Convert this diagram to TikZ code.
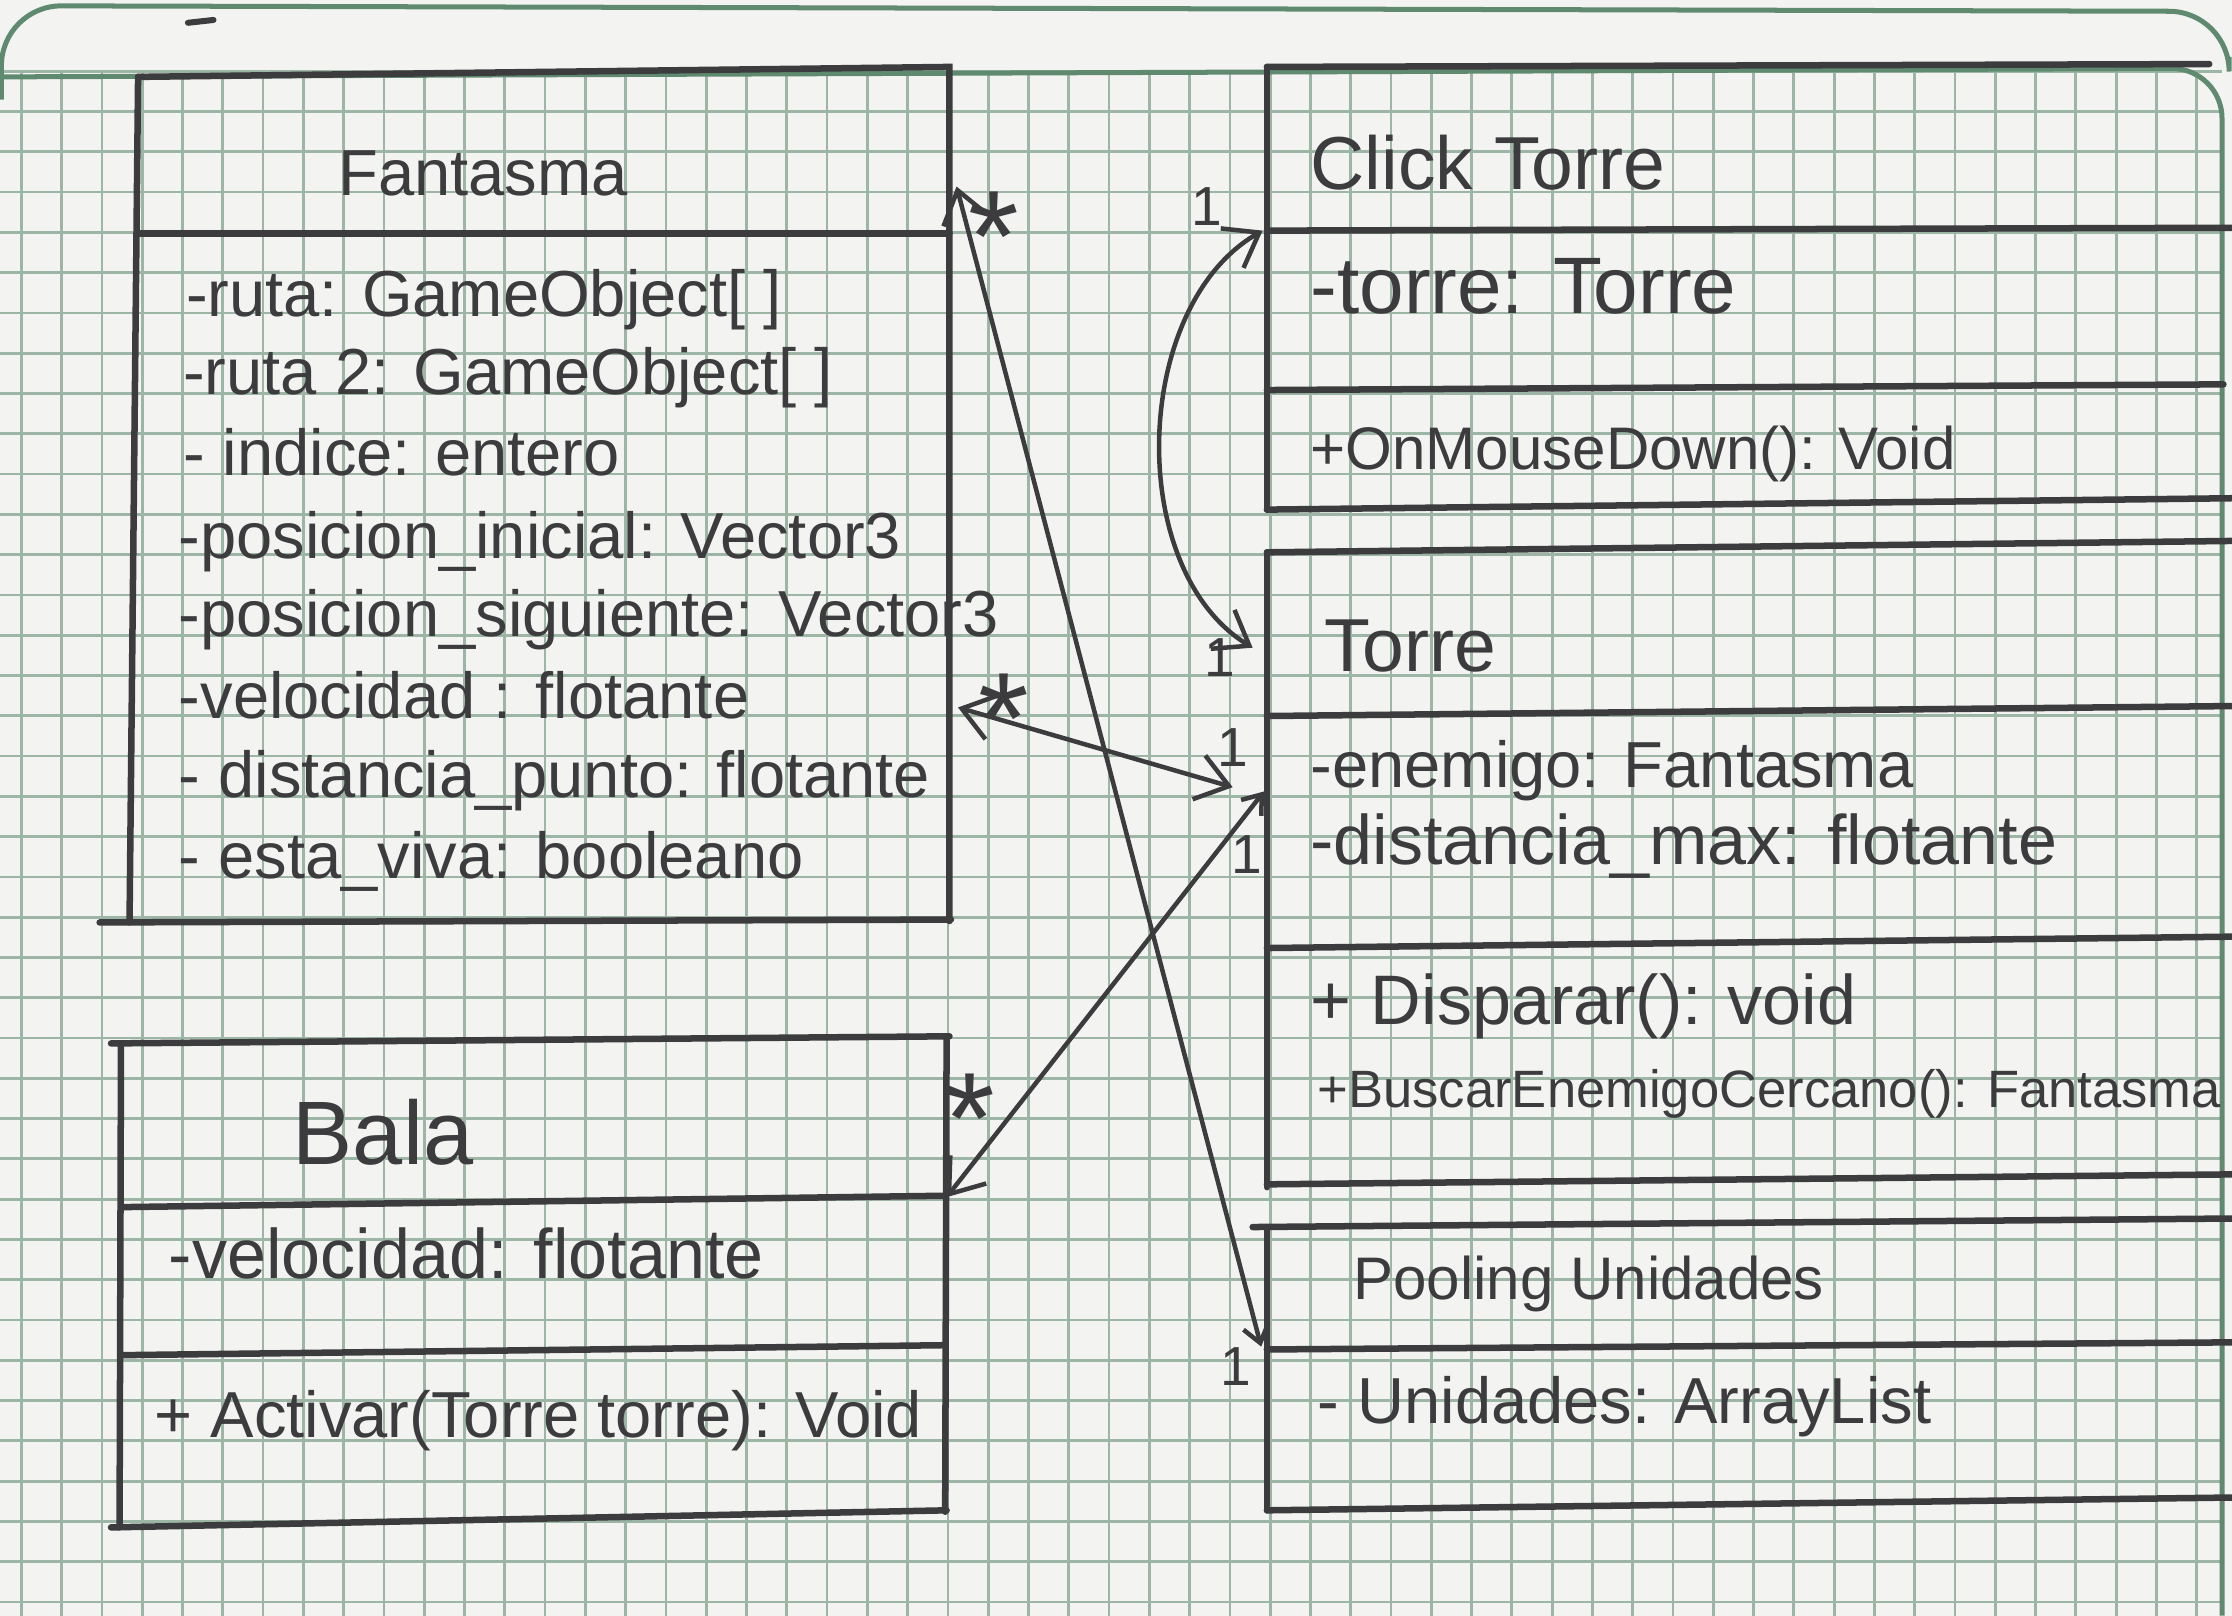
\documentclass[tikz,border=0pt]{standalone}
\usepackage{fontspec}
\setmainfont{Liberation Sans}
\usetikzlibrary{arrows.meta,calc}
\definecolor{ink}{HTML}{3C3C3E}
\definecolor{paper}{HTML}{F3F3F1}
\definecolor{gridgreen}{HTML}{9DB5A5}
\definecolor{edgegreen}{HTML}{5F8A6F}

\begin{document}
\begin{tikzpicture}[
  x=0.01cm, y=-0.01cm,
  gridline/.style={draw=gridgreen,line width=0.55pt},
  box/.style={draw=ink,line width=1.3pt,line cap=round},
  assoc/.style={draw=ink,line width=0.9pt,
    {Straight Barb[length=2.2mm,width=3.2mm]}-{Straight Barb[length=2.2mm,width=3.2mm]}},
  assocsmall/.style={draw=ink,line width=0.9pt,
    {Straight Barb[length=2.2mm,width=3.2mm]}-{Straight Barb[length=1.2mm,width=1.8mm]}},
  clsname/.style={anchor=base west,inner sep=0pt,text=ink,font=\fontsize{15}{17}\selectfont},
  attr/.style={anchor=base west,inner sep=0pt,text=ink,font=\fontsize{13}{15}\selectfont},
  mult/.style={inner sep=0pt,text=ink,font=\fontsize{11}{13}\selectfont},
  many/.style={inner sep=0pt,text=ink,font=\fontsize{26}{26}\selectfont}
]
\useasboundingbox (0,0) rectangle (1568,1135);
\fill[paper] (0,0) rectangle (1568,1135);

% squared paper
\foreach \i in {0,...,54}
  \draw[gridline] (15+28.3*\i,50) -- (15+28.3*\i,1135);
\foreach \j in {0,...,38}
  \draw[gridline] (0,50+28.3*\j) -- (1561,50+28.3*\j);
\draw[edgegreen,line width=1pt,rounded corners=12] (1,70) -- (1,4) -- (1566,8) -- (1566,40);
\draw[edgegreen,line width=1pt,rounded corners=10] (0,54) -- (1561,48) -- (1561,1135);
\draw[ink,line width=1.2pt,line cap=round] (132,16) -- (150,14);

% Fantasma
\draw[box] (97,54) -- (667,47) -- (667,647);
\draw[box] (97,54) -- (91,648);
\draw[box] (97,164) -- (667,164);
\draw[box] (70,648) -- (668,646);
% Bala
\draw[box] (78,733) -- (667,728);
\draw[box] (85,733) -- (84,1073);
\draw[box] (665,728) -- (664,1062);
\draw[box] (86,848) -- (664,840);
\draw[box] (86,952) -- (664,945);
\draw[box] (78,1073) -- (665,1061);
% Click Torre
\draw[box] (890,47) -- (1552,45);
\draw[box] (890,47) -- (890,358);
\draw[box] (890,162) -- (1568,160);
\draw[box] (890,274) -- (1562,270);
\draw[box] (890,358) -- (1568,350);
% Torre
\draw[box] (890,388) -- (1568,380);
\draw[box] (890,388) -- (890,834);
\draw[box] (890,503) -- (1568,496);
\draw[box] (890,666) -- (1568,658);
\draw[box] (890,832) -- (1568,825);
% Pooling Unidades
\draw[box] (880,862) -- (1568,856);
\draw[box] (890,862) -- (890,1061);
\draw[box] (890,948) -- (1568,943);
\draw[box] (890,1061) -- (1568,1052);

\node[clsname,font=\fontsize{13}{15}\selectfont] (fantasma) at (237,137) {Fantasma};
\node[attr] (ruta) at (130,222) {-ruta: GameObject[ ]};
\node[attr] (ruta2) at (128,277) {-ruta 2: GameObject[ ]};
\node[attr] (indice) at (128,334) {- indice: entero};
\node[attr] (posini) at (125,392) {-posicion\_inicial: Vector3};
\node[attr] (possig) at (125,447) {-posicion\_siguiente: Vector3};
\node[attr] (velfan) at (125,505) {-velocidad : flotante};
\node[attr] (distpunto) at (125,560) {- distancia\_punto: flotante};
\node[attr] (viva) at (125,617) {- esta\_viva: booleano};

\node[clsname,font=\fontsize{18}{20}\selectfont] (bala) at (205,818) {Bala};
\node[attr,font=\fontsize{14}{16}\selectfont] (velbala) at (118,898) {-velocidad: flotante};
\node[attr] (activar) at (108,1010) {+ Activar(Torre torre): Void};

\node[clsname] (clicktorre) at (920,133) {Click Torre};
\node[attr,font=\fontsize{16}{18}\selectfont] (torreattr) at (920,220) {-torre: Torre};
\node[attr,font=\fontsize{12}{14}\selectfont] (mousedown) at (920,330) {+OnMouseDown(): Void};

\node[clsname] (torre) at (930,472) {Torre};
\node[attr] (enemigo) at (920,553) {-enemigo: Fantasma};
\node[attr,font=\fontsize{14}{16}\selectfont] (distmax) at (920,607) {-distancia\_max: flotante};
\node[attr,font=\fontsize{14}{16}\selectfont] (disparar) at (920,720) {+ Disparar(): void};
\node[attr,font=\fontsize{10.5}{12}\selectfont] (buscar) at (925,778) {+BuscarEnemigoCercano(): Fantasma};

\node[clsname,font=\fontsize{12}{14}\selectfont] (pooling) at (950,913) {Pooling Unidades};
\node[attr] (unidades) at (925,1000) {- Unidades: ArrayList};

% multiplicities
\node[many] (mfan1) at (698,166) {*};
\node[mult] (mclick) at (848,145) {1};
\node[many] (mfan2) at (705,505) {*};
\node[mult] (mtorre1) at (866,525) {1};
\node[mult] (mtorre2) at (857,462) {1};
\node[mult] (mtorre3) at (876,600) {1};
\node[many] (mbala) at (681,786) {*};
\node[mult] (mpool) at (868,960) {1};

% association ends
\coordinate (fanTop) at (672,131);
\coordinate (poolEnd) at (886,946);
\coordinate (fanMid) at (673,497);
\coordinate (torreA) at (866,553);
\coordinate (balaEnd) at (665,841);
\coordinate (torreB) at (888,556);
\coordinate (clickEnd) at (887,162);
\coordinate (torreC) at (880,455);

\draw[assocsmall] (fanTop) -- (poolEnd);
\draw[assoc] (fanMid) -- (torreA);
\draw[assocsmall] (balaEnd) -- (torreB);
\draw[assoc] (clickEnd) .. controls (795,215) and (790,400) .. (torreC);
\end{tikzpicture}
\end{document}
